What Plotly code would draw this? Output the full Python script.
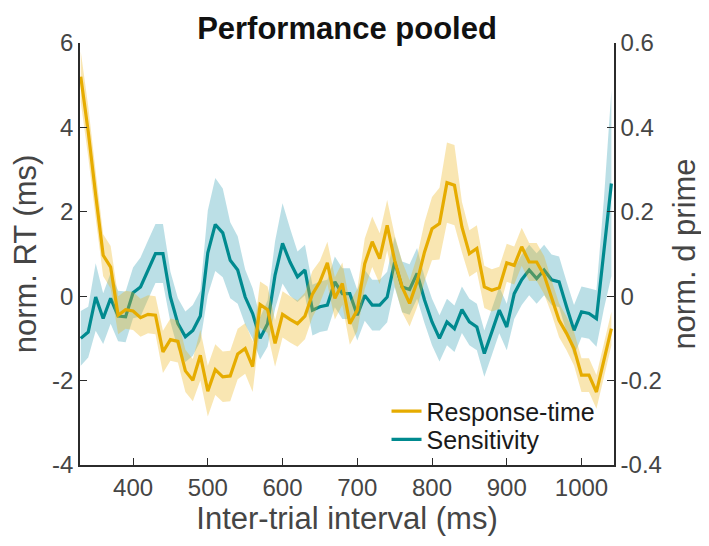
import plotly.graph_objects as go

# Inter-trial interval (ms)
iti = [330, 340, 350, 360, 370, 380, 390, 400, 410, 420, 430, 440, 450, 460, 470, 480,
       490, 500, 510, 520, 530, 540, 550, 560, 570, 580, 590, 600, 610, 620, 630, 640,
       650, 660, 670, 680, 690, 700, 710, 720, 730, 740, 750, 760, 770, 780, 790, 800,
       810, 820, 830, 840, 850, 860, 870, 880, 890, 900, 910, 920, 930, 940, 950, 960,
       970, 980, 990, 1000, 1010, 1020, 1030, 1040]

# normalised response time (ms)
rt = [5.20, 3.90, 2.40, 0.97, 0.69, -0.45, -0.32, -0.35, -0.51, -0.43, -0.45, -1.32,
      -1.03, -1.07, -1.77, -1.99, -1.40, -2.25, -1.74, -1.91, -1.89, -1.37, -1.24, -1.67,
      -0.20, -0.32, -1.12, -0.43, -0.55, -0.65, -0.47, 0.05, 0.34, 0.79, -0.05, 0.30,
      -0.65, -0.33, 0.77, 1.29, 0.89, 1.68, 0.85, 0.22, -0.17, 0.34, 1.05, 1.60,
      1.72, 2.69, 2.63, 1.64, 1.01, 1.13, 0.22, 0.14, 0.20, 0.79, 0.73, 1.17,
      0.81, 0.81, 0.50, -0.02, -0.57, -0.88, -1.24, -1.87, -1.87, -2.27, -1.52, -0.77]

rt_err = [0.60, 0.60, 0.55, 0.50, 0.50, 0.45, 0.45, 0.45, 0.45, 0.45, 0.45, 0.50,
          0.50, 0.50, 0.50, 0.50, 0.60, 0.60, 0.60, 0.60, 0.60, 0.60, 0.60, 0.60,
          0.55, 0.55, 0.55, 0.55, 0.55, 0.55, 0.55, 0.55, 0.50, 0.50, 0.50, 0.50,
          0.50, 0.50, 0.60, 0.60, 0.60, 0.60, 0.60, 0.60, 0.55, 0.60, 0.70, 0.75,
          0.85, 0.95, 0.95, 0.60, 0.55, 0.55, 0.50, 0.50, 0.50, 0.45, 0.45, 0.45,
          0.45, 0.45, 0.45, 0.40, 0.40, 0.40, 0.40, 0.40, 0.40, 0.40, 0.40, 0.40]

# normalised d prime
dprime = [-0.100, -0.085, -0.002, -0.053, -0.005, -0.047, -0.049, 0.008, 0.022, 0.062,
          0.101, 0.101, -0.002, -0.065, -0.096, -0.081, -0.047, 0.103, 0.170, 0.150,
          0.085, 0.062, -0.002, -0.041, -0.100, -0.065, 0.050, 0.125, 0.081, 0.046,
          0.062, -0.033, -0.025, -0.021, 0.034, 0.006, 0.006, -0.045, 0.002, -0.021,
          -0.021, -0.002, 0.081, 0.022, 0.016, 0.054, -0.009, -0.061, -0.100, -0.061,
          -0.077, -0.032, -0.061, -0.073, -0.136, -0.085, -0.033, -0.073, 0.006, 0.039,
          0.062, 0.042, 0.062, 0.039, 0.034, -0.025, -0.081, -0.037, -0.041, -0.053,
          0.100, 0.267]

dprime_err = [0.065, 0.060, 0.080, 0.060, 0.060, 0.060, 0.060, 0.060, 0.070, 0.070,
              0.070, 0.070, 0.060, 0.060, 0.060, 0.060, 0.060, 0.100, 0.110, 0.105,
              0.090, 0.080, 0.065, 0.060, 0.050, 0.055, 0.080, 0.095, 0.080, 0.060,
              0.060, 0.060, 0.060, 0.060, 0.060, 0.060, 0.060, 0.060, 0.060, 0.060,
              0.060, 0.060, 0.060, 0.060, 0.060, 0.060, 0.055, 0.055, 0.055, 0.055,
              0.055, 0.055, 0.055, 0.055, 0.055, 0.055, 0.055, 0.055, 0.060, 0.060,
              0.060, 0.060, 0.060, 0.060, 0.060, 0.060, 0.060, 0.060, 0.060, 0.067,
              0.130, 0.220]

x_ticks = [400, 500, 600, 700, 800, 900, 1000]
rt_ticks = [-4, -2, 0, 2, 4, 6]
rt_ticktext = ["-4", "-2", "0", "2", "4", "6"]
dp_ticks = [-0.4, -0.2, 0, 0.2, 0.4, 0.6]
dp_ticktext = ["-0.4", "-0.2", "0", "0.2", "0.4", "0.6"]

YELLOW = "#E6AC00"
TEAL = "#008A8F"
AXC = "#2b2b2b"
TXT = "#454545"
FONT = "Liberation Sans, Arial, Helvetica, sans-serif"


def band(x, y, e):
    xs = list(x) + list(x)[::-1]
    ys = [a + b for a, b in zip(y, e)] + [a - b for a, b in zip(y, e)][::-1]
    return xs, ys


fig = go.Figure()

# Sensitivity on primary axis (right side)
bx, by = band(iti, dprime, dprime_err)
fig.add_trace(go.Scatter(x=bx, y=by, fill="toself", mode="none",
                         fillcolor="rgba(75,172,188,0.38)", showlegend=False,
                         hoverinfo="skip", yaxis="y"))
fig.add_trace(go.Scatter(x=iti, y=dprime, mode="lines", name="Sensitivity",
                         line=dict(color=TEAL, width=3.2), yaxis="y",
                         legend="legend2"))

# Response time on overlaid axis (left side)
bx, by = band(iti, rt, rt_err)
fig.add_trace(go.Scatter(x=bx, y=by, fill="toself", mode="none",
                         fillcolor="rgba(236,180,20,0.33)", showlegend=False,
                         hoverinfo="skip", yaxis="y2"))
fig.add_trace(go.Scatter(x=iti, y=rt, mode="lines", name="Response-time",
                         line=dict(color=YELLOW, width=3.2), yaxis="y2",
                         legend="legend"))

axis_common = dict(showgrid=False, zeroline=False, showline=True, linecolor=AXC,
                   linewidth=1.5, ticks="inside", ticklen=7, tickwidth=1.3,
                   tickcolor=AXC, tickfont=dict(family=FONT, size=24, color=TXT))

legend_common = dict(xanchor="left", yanchor="middle", bgcolor="rgba(0,0,0,0)",
                     font=dict(family=FONT, size=25, color="#1a1a1a"), itemwidth=30)

fig.update_layout(
    width=700, height=537,
    margin=dict(l=65, r=93, t=35, b=80),
    paper_bgcolor="white", plot_bgcolor="white",
    font=dict(family=FONT),
    title=dict(text="<b>Performance pooled</b>", x=0.5, xref="paper",
               y=1.0, yref="container", yanchor="top", pad=dict(t=9),
               font=dict(family=FONT, size=31, color="#111111")),
    xaxis=dict(range=[329, 1043.5], tickvals=x_ticks,
               title=dict(text="Inter-trial interval (ms)", standoff=8,
                          font=dict(family=FONT, size=31, color=TXT)),
               **axis_common),
    yaxis=dict(range=[-0.4, 0.6], side="right", tickvals=dp_ticks, ticktext=dp_ticktext,
               title=dict(text="norm. d prime", standoff=12,
                          font=dict(family=FONT, size=31, color=TXT)),
               **axis_common),
    yaxis2=dict(range=[-4, 6], side="left", overlaying="y", tickvals=rt_ticks,
                ticktext=rt_ticktext,
                title=dict(text="norm. RT (ms)", standoff=10,
                           font=dict(family=FONT, size=31, color=TXT)),
                **axis_common),
    legend=dict(x=0.574, y=0.127, **legend_common),
    legend2=dict(x=0.574, y=0.060, **legend_common),
    showlegend=True,
)

fig.write_html("out.html")
